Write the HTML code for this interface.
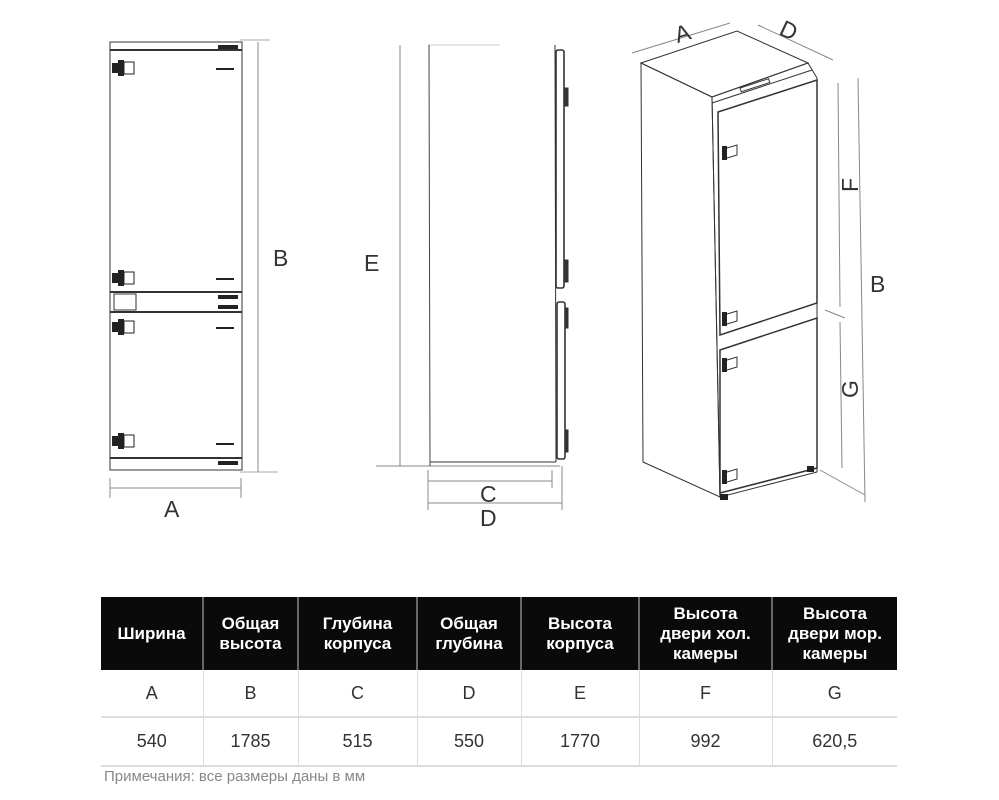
<!DOCTYPE html>
<html><head><meta charset="utf-8"><style>
body{margin:0;background:#fff;width:999px;height:800px;overflow:hidden;font-family:"Liberation Sans",sans-serif}
svg{position:absolute;left:0;top:0}
table{position:absolute;left:101px;top:597px;border-collapse:collapse;font-family:"Liberation Sans",sans-serif}
th{background:#0a0a0a;color:#fff;font-weight:bold;font-size:17px;line-height:20px;height:73px;padding:0;border-left:2px solid #666;text-align:center}
td{text-align:center;font-size:18px;color:#333;border-left:1px solid #ddd;border-bottom:2px solid #ddd;padding:0}
.r1 td{height:46px}.r2 td{height:47px}
.note{position:absolute;left:104px;top:768px;font-size:15px;color:#888}
</style></head><body>
<svg width="999" height="600" viewBox="0 0 999 600" fill="none" stroke="#333" stroke-width="1">
<rect x="110" y="42" width="132" height="428"/>
<line x1="110" y1="50" x2="242" y2="50" stroke-width="2"/>
<line x1="110" y1="292" x2="242" y2="292" stroke-width="2"/>
<line x1="110" y1="312" x2="242" y2="312" stroke-width="2"/>
<rect x="114" y="294" width="22" height="16"/>
<line x1="110" y1="458" x2="242" y2="458" stroke-width="2"/>
<g fill="#222" stroke="none">
<rect x="112" y="63" width="12" height="10"/><rect x="118" y="60" width="6" height="16"/><rect x="124" y="62" width="10" height="12" fill="none" stroke="#222"/>
<rect x="112" y="273" width="12" height="10"/><rect x="118" y="270" width="6" height="16"/><rect x="124" y="272" width="10" height="12" fill="none" stroke="#222"/>
<rect x="112" y="322" width="12" height="10"/><rect x="118" y="319" width="6" height="16"/><rect x="124" y="321" width="10" height="12" fill="none" stroke="#222"/>
<rect x="112" y="436" width="12" height="10"/><rect x="118" y="433" width="6" height="16"/><rect x="124" y="435" width="10" height="12" fill="none" stroke="#222"/>
<rect x="216" y="68" width="18" height="2"/><rect x="216" y="278" width="18" height="2"/><rect x="216" y="327" width="18" height="2"/><rect x="216" y="443" width="18" height="2"/>
<rect x="218" y="295" width="20" height="4"/><rect x="218" y="305" width="20" height="4"/><rect x="218" y="45" width="20" height="4"/><rect x="218" y="461" width="20" height="4"/>
</g>
<line x1="240" y1="40" x2="270" y2="40" stroke="#aaa"/><line x1="240" y1="472" x2="278" y2="472" stroke="#aaa"/>
<line x1="258" y1="42" x2="258" y2="472" stroke="#888"/>
<line x1="110" y1="478" x2="110" y2="498" stroke="#888"/><line x1="241" y1="478" x2="241" y2="498" stroke="#888"/>
<line x1="110" y1="488" x2="241" y2="488" stroke="#888"/>
<line x1="400" y1="45" x2="400" y2="466" stroke="#888"/>
<line x1="376" y1="466" x2="560" y2="466" stroke="#888"/>
<line x1="428" y1="45" x2="500" y2="45" stroke="#ccc"/>
<line x1="429" y1="45" x2="430" y2="466" stroke="#444"/>
<line x1="430" y1="462" x2="556" y2="462"/>
<line x1="555" y1="45" x2="556" y2="462"/>
<rect x="556" y="50" width="8" height="238" rx="2" stroke-width="1.6"/>
<rect x="557" y="302" width="8" height="157" rx="2" stroke-width="1.6"/>
<rect x="565" y="88" width="3" height="18" fill="#333"/><rect x="565" y="260" width="3" height="22" fill="#333"/><rect x="565" y="308" width="3" height="20" fill="#333"/><rect x="565" y="430" width="3" height="22" fill="#333"/>
<line x1="428" y1="470" x2="428" y2="510" stroke="#888"/><line x1="552" y1="470" x2="552" y2="488" stroke="#888"/><line x1="562" y1="466" x2="562" y2="510" stroke="#888"/>
<line x1="428" y1="481" x2="552" y2="481" stroke="#888"/>
<line x1="428" y1="503" x2="562" y2="503" stroke="#888"/>
<polygon points="641,63 737,31 808,63 712,97"/>
<polygon points="641,63 712,97 720,497 643,462"/>
<polygon points="712,97 808,63 817,78 817,472 720,497"/>
<polygon points="718,112 817,80 817,303 720,335" stroke-width="1.5"/>
<polygon points="720,350 817,318 817,468 720,493" stroke-width="1.5"/>
<line x1="712" y1="103" x2="812" y2="70"/>
<rect x="740" y="88" width="30" height="4" transform="rotate(-18 740 88)"/>
<g fill="#222" stroke="none">
<rect x="722" y="146" width="5" height="14"/><rect x="722" y="312" width="5" height="14"/><rect x="722" y="358" width="5" height="14"/><rect x="722" y="470" width="5" height="14"/>
<rect x="720" y="494" width="8" height="6"/><rect x="807" y="466" width="7" height="6"/>
</g>
<path d="M727 148 l10 -3 v10 l-10 3 M727 314 l10 -3 v10 l-10 3 M727 360 l10 -3 v10 l-10 3 M727 472 l10 -3 v10 l-10 3"/>
<line x1="632" y1="53" x2="730" y2="23" stroke="#888"/>
<line x1="758" y1="25" x2="833" y2="60" stroke="#888"/>
<line x1="838" y1="83" x2="840" y2="307" stroke="#888"/>
<line x1="840" y1="322" x2="842" y2="468" stroke="#888"/>
<line x1="858" y1="78" x2="865" y2="502" stroke="#888"/>
<line x1="820" y1="470" x2="865" y2="495" stroke="#888"/>
<line x1="825" y1="310" x2="845" y2="318" stroke="#888"/>
<g fill="#333" stroke="none" font-family="Liberation Sans" font-size="23">
<text x="273" y="266">B</text><text x="364" y="271">E</text>
<text x="164" y="517">A</text><text x="480" y="502">C</text><text x="480" y="526">D</text>
<text x="674" y="40" transform="rotate(-17 686 30)">A</text>
<text x="781" y="40" transform="rotate(25 793 30)">D</text>
<text x="870" y="292">B</text>
<text x="0" y="0" transform="translate(858,192) rotate(-90)">F</text>
<text x="0" y="0" transform="translate(858,398) rotate(-90)">G</text>
</g>
</svg>
<table>
<tr><th style="width:101px;border-left:none">Ширина</th><th style="width:93px">Общая<br>высота</th><th style="width:117px">Глубина<br>корпуса</th><th style="width:102px">Общая<br>глубина</th><th style="width:116px">Высота<br>корпуса</th><th style="width:131px">Высота<br>двери хол.<br>камеры</th><th style="width:124px">Высота<br>двери мор.<br>камеры</th></tr>
<tr class="r1"><td style="border-left:none">A</td><td>B</td><td>C</td><td>D</td><td>E</td><td>F</td><td>G</td></tr>
<tr class="r2"><td style="border-left:none">540</td><td>1785</td><td>515</td><td>550</td><td>1770</td><td>992</td><td>620,5</td></tr>
</table>
<div class="note">Примечания: все размеры даны в мм</div>
</body></html>
